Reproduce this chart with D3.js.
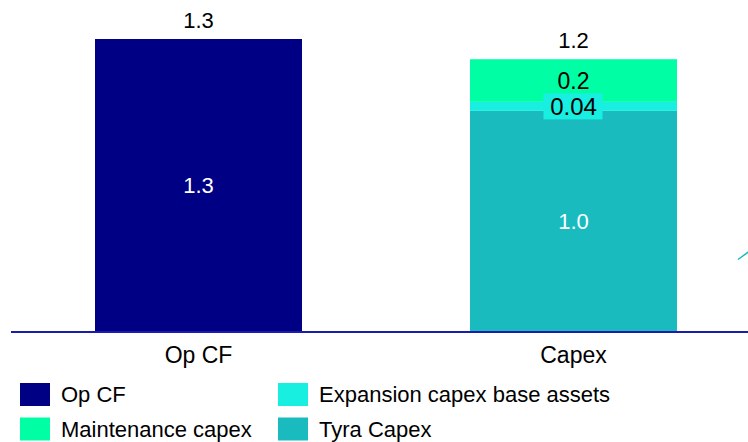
<!DOCTYPE html>
<html>
<head>
<meta charset="utf-8">
<script src="https://cdn.jsdelivr.net/npm/d3@7.9.0/dist/d3.min.js"></script>
<style>
  html, body { margin: 0; padding: 0; background: #fff; }
  svg { display: block; font-family: "Liberation Sans", Arial, sans-serif; }
</style>
</head>
<body>
<svg width="748" height="442"></svg>
<script>
// categories and stacked series (bottom -> top)
const categories = ["Op CF", "Capex"];
const seriesNames = ["Op CF", "Tyra Capex", "Expansion capex base assets", "Maintenance capex"];
const opCF = [1.3, 0];
const tyraCapex = [0, 0.98];
const expansionCapex = [0, 0.04];
const maintenanceCapex = [0, 0.19];
const segmentLabels = [["1.3", ""], ["", "1.0"], ["", "0.04"], ["", "0.2"]];
const totalLabels = ["1.3", "1.2"];
const legendOrder = ["Op CF", "Expansion capex base assets", "Maintenance capex", "Tyra Capex"];

const colors = {
    "Op CF": "#000085",
    "Tyra Capex": "#1abbbf",
    "Expansion capex base assets": "#18efe1",
    "Maintenance capex": "#00ffa4"
};
// in-bar label size per series
const labelSize = {
    "Op CF": 22,
    "Tyra Capex": 22,
    "Expansion capex base assets": 24,
    "Maintenance capex": 23
};

const svg = d3.select("svg");
const baseY = 331;

const x = d3.scaleBand()
    .domain(categories)
    .range([11, 761])
    .paddingInner(0.448)
    .paddingOuter(0.224);

const y = d3.scaleLinear()
    .domain([0, 1.3])
    .range([baseY, 39]);

// build rows for the stack
const rows = categories.map((c, i) => ({
    cat: c,
    "Op CF": opCF[i],
    "Tyra Capex": tyraCapex[i],
    "Expansion capex base assets": expansionCapex[i],
    "Maintenance capex": maintenanceCapex[i]
}));
const stacked = d3.stack().keys(seriesNames)(rows);

const layers = svg.append("g").selectAll("g")
    .data(stacked)
    .enter().append("g")
    .attr("fill", d => colors[d.key]);

layers.selectAll("rect")
    .data(d => d.map(v => ({ key: d.key, v })))
    .enter().append("rect")
    .filter(d => d.v[1] - d.v[0] > 0)
    .attr("x", d => x(d.v.data.cat))
    .attr("width", x.bandwidth())
    .attr("y", d => y(d.v[1]))
    .attr("height", d => y(d.v[0]) - y(d.v[1]));

// segment labels
stacked.forEach((layer, li) => {
    layer.forEach((v, ci) => {
        const txt = segmentLabels[li][ci];
        if (!txt) return;
        const cx = x(categories[ci]) + x.bandwidth() / 2;
        const cy = (y(v[0]) + y(v[1])) / 2;
        const white = layer.key === "Op CF" || layer.key === "Tyra Capex";
        if (layer.key === "Expansion capex base assets") {
            svg.append("rect")
                .attr("x", cx - 30)
                .attr("y", cy - 13)
                .attr("width", 59)
                .attr("height", 26)
                .attr("fill", colors[layer.key]);
        }
        svg.append("text")
            .attr("x", cx)
            .attr("y", cy)
            .attr("dy", "0.36em")
            .attr("text-anchor", "middle")
            .attr("font-size", labelSize[layer.key])
            .attr("fill", white ? "#fff" : "#000")
            .text(txt);
    });
});

// totals on top
categories.forEach((c, i) => {
    const total = d3.sum(seriesNames, k => rows[i][k]);
    svg.append("text")
        .attr("x", x(c) + x.bandwidth() / 2)
        .attr("y", y(total) - 11)
        .attr("text-anchor", "middle")
        .attr("font-size", 22)
        .attr("fill", "#000")
        .text(totalLabels[i]);
});

// connector fragment at the right edge
svg.append("line")
    .attr("x1", 738).attr("y1", 259.5)
    .attr("x2", 749).attr("y2", 251.5)
    .attr("stroke", colors["Tyra Capex"])
    .attr("stroke-width", 1.5);

// baseline axis
svg.append("line")
    .attr("x1", 11).attr("x2", 748)
    .attr("y1", baseY + 1).attr("y2", baseY + 1)
    .attr("stroke", "#1c1caa")
    .attr("stroke-width", 2);

// category labels
svg.append("g").selectAll("text")
    .data(categories)
    .enter().append("text")
    .attr("x", d => x(d) + x.bandwidth() / 2)
    .attr("y", 363)
    .attr("text-anchor", "middle")
    .attr("font-size", 23)
    .attr("fill", "#000")
    .text(d => d);

// legend, two columns
const legend = svg.append("g");
legendOrder.forEach((name, i) => {
    const col = i % 2, row = Math.floor(i / 2);
    const g = legend.append("g")
        .attr("transform", `translate(${col ? 278 : 20},${383 + row * 34.5})`);
    g.append("rect")
        .attr("width", 30).attr("height", 23)
        .attr("fill", colors[name]);
    g.append("text")
        .attr("x", 41).attr("y", 11.5)
        .attr("dy", "0.36em")
        .attr("font-size", 22)
        .attr("fill", "#000")
        .text(name);
});
</script>
</body>
</html>
